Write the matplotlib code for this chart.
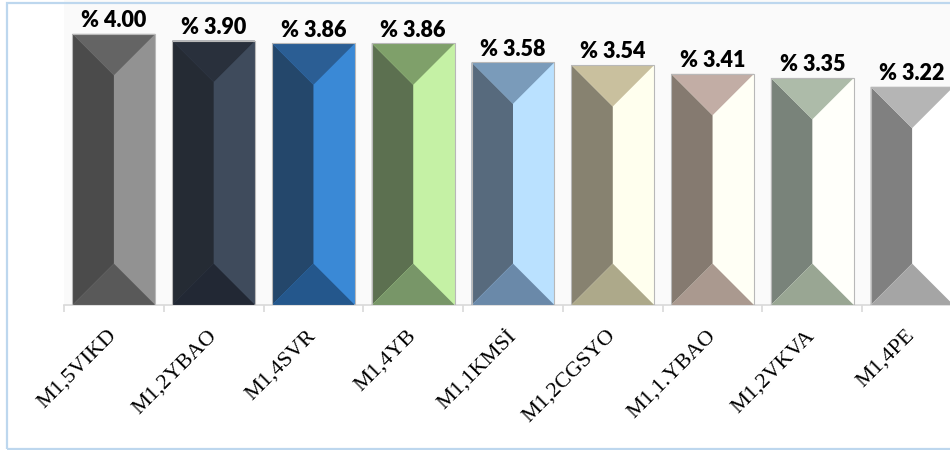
import matplotlib
matplotlib.use("Agg")
import matplotlib.pyplot as plt
from matplotlib.patches import Polygon, Rectangle

# Data
categories = ["M1,5VIKD", "M1,2YBAO", "M1,4SVR", "M1,4YB", "M1,1KMSİ",
              "M1,2CGSYO", "M1,1.YBAO", "M1,2VKVA", "M1,4PE"]
values = [4.00, 3.90, 3.86, 3.86, 3.58, 3.54, 3.41, 3.35, 3.22]
value_labels = ["% 4.00", "% 3.90", "% 3.86", "% 3.86", "% 3.58",
                "% 3.54", "% 3.41", "% 3.35", "% 3.22"]

# Bevel shading per bar: left face, right face, top facet, bottom facet
left_colors = ["#4b4b4b", "#252b34", "#24476b", "#5c7050", "#576a7d",
               "#878270", "#857a70", "#79837a", "#808080"]
right_colors = ["#929292", "#3f4b5c", "#3a89d6", "#c5f1a5", "#bae1ff",
                "#ffffee", "#fffff5", "#fffffa", "#ffffff"]
top_colors = ["#646464", "#29303c", "#2b5e94", "#7fa06a", "#7a9bba",
              "#c9c09e", "#c2ada5", "#adbba9", "#b5b5b5"]
bottom_colors = ["#595959", "#222834", "#24578c", "#789668", "#6a89a9",
                 "#ada98a", "#aa998f", "#99a693", "#a5a5a5"]

W, H = 950, 450
fig = plt.figure(figsize=(W / 100, H / 100), dpi=100)
fig.patch.set_facecolor("white")

# light blue frame around the chart
fig.patches.append(Rectangle((7 / W, 1 / H), 1.2, 446.5 / H, transform=fig.transFigure,
                             fill=False, edgecolor="#bdd7ee", linewidth=1.6, zorder=0))

ax = fig.add_axes([64 / W, 145 / H, 898 / W, 305 / H])
ax.set_facecolor("#fafafa")
ax.set_xlim(-0.5, len(values) - 0.5)
ax.set_ylim(0, 4.5)

bar_w = 0.83
x = list(range(len(values)))
ax.bar(x, values, width=bar_w, color=right_colors, edgecolor="none", zorder=2)

# bevel depth of 45 degrees expressed in data units
bb = ax.get_position()
sx = bb.width * W / (ax.get_xlim()[1] - ax.get_xlim()[0])
sy = bb.height * H / (ax.get_ylim()[1] - ax.get_ylim()[0])
d = (bar_w / 2) * sx / sy

for i, v in enumerate(values):
    x0, x1, cx = i - bar_w / 2, i + bar_w / 2, i
    ax.add_patch(Polygon([(x0, v), (cx, v - d), (cx, d), (x0, 0)],
                         closed=True, facecolor=left_colors[i], edgecolor="none", zorder=3))
    ax.add_patch(Polygon([(x0, v), (x1, v), (cx, v - d)],
                         closed=True, facecolor=top_colors[i], edgecolor="none", zorder=3))
    ax.add_patch(Polygon([(x0, 0), (x1, 0), (cx, d)],
                         closed=True, facecolor=bottom_colors[i], edgecolor="none", zorder=3))
    ax.add_patch(Rectangle((x0, 0), bar_w, v, fill=False, edgecolor="#b8b8b8",
                           linewidth=0.8, zorder=4))
    ax.annotate(value_labels[i], (i, v), xytext=(0, 2), textcoords="offset points",
                ha="center", va="bottom", fontsize=15.5, fontweight="heavy",
                family="Lato", color="black", zorder=5)

for s in ["top", "right", "left"]:
    ax.spines[s].set_visible(False)
ax.spines["bottom"].set_color("#d9d9d9")
ax.spines["bottom"].set_linewidth(1.2)
ax.set_yticks([])

# category names under the bars, category boundaries as tick marks
ax.set_xticks(x)
ax.set_xticklabels(categories, rotation=45, rotation_mode="anchor",
                   ha="right", va="center", fontsize=16,
                   family=["Liberation Serif", "DejaVu Serif"])
ax.tick_params(axis="x", which="major", length=0, pad=20)
ax.set_xticks([i - 0.5 for i in range(len(values) + 1)], minor=True)
ax.tick_params(axis="x", which="minor", length=5, width=1.2, color="#d9d9d9")

fig.savefig("out.png", dpi=100, facecolor="white")
